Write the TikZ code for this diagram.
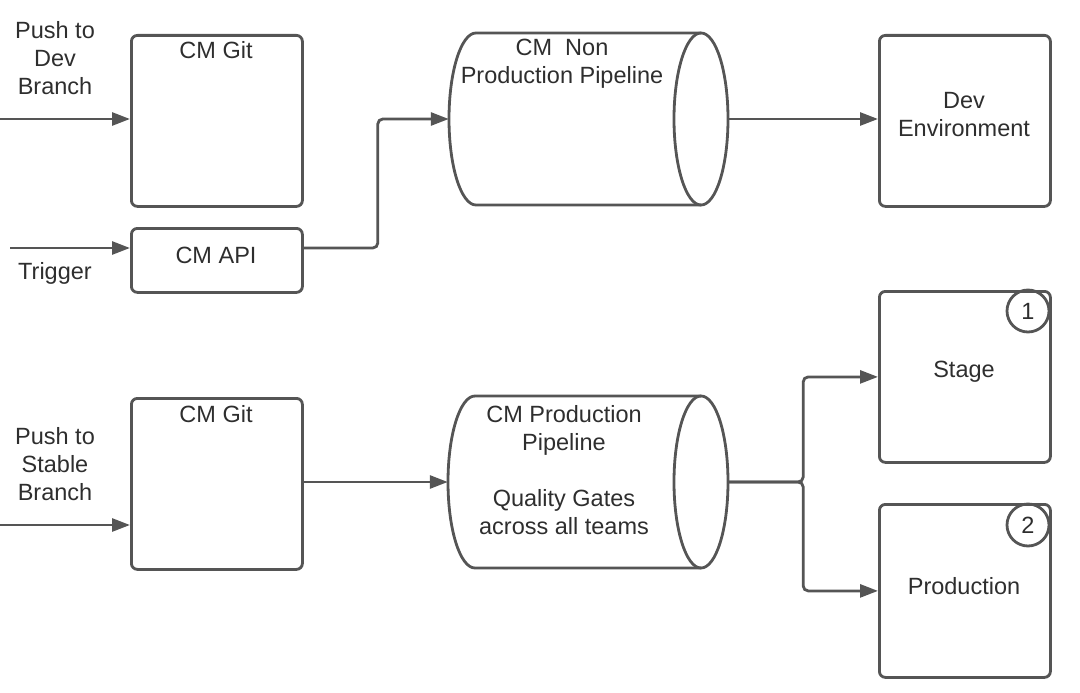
\documentclass[tikz,border=0pt]{standalone}
\usepackage{fontspec}
\setmainfont{Liberation Sans}
\usetikzlibrary{arrows.meta}
\definecolor{edge}{HTML}{555555}
\definecolor{ink}{HTML}{2E2E2E}
\begin{document}
\begin{tikzpicture}[x=1pt,y=-1pt,
  every node/.style={font=\fontsize{23.5}{28}\selectfont, text=ink},
  txt/.style={align=center, inner sep=0pt},
  box/.style={draw=edge, line width=2.8pt, rounded corners=6pt,
    minimum width=171pt, inner sep=0pt, anchor=north west},
  tall/.style={box, minimum height=171pt},
  ghost/.style={draw=none, inner sep=0pt},
  badge/.style={circle, draw=edge, line width=2.8pt, minimum size=42pt, inner sep=0pt},
  shell/.style={draw=edge, line width=2.8pt},
  arr/.style={draw=edge, line width=2.8pt, rounded corners=5pt,
    -{Triangle[length=18pt,width=13pt]}}
]
\useasboundingbox (0,0) rectangle (1080,693);

% --- upper row: dev branch
\node[tall] (gitdev) at (130,34) {};
\node[txt] (gitdevlbl) at (216,50) {CM Git};
\node[box, minimum height=64pt] (api) at (130,227) {};
\node[txt] (apilbl) at (216,255) {CM API};
\node[tall] (dev) at (878,34) {};
\node[txt] (devlbl) at (964,115) {Dev\\Environment};

% non production pipeline cylinder
\node[ghost, minimum width=279pt, minimum height=172pt] (np) at (588.5,119) {};
\draw[shell] (701,33) -- (476,33)
  arc[start angle=90, end angle=270, x radius=27pt, y radius=86pt] -- (701,205);
\draw[shell] (701,119) ellipse [x radius=27pt, y radius=86pt];
\node[txt] (nplbl) at (562,64) {CM~ Non\\Production Pipeline};

% --- lower row: stable branch
\node[tall] (gitst) at (130,397) {};
\node[txt] (gitstlbl) at (216,414) {CM Git};
\node[tall] (stage) at (878,290) {};
\node[txt] (stagelbl) at (964,372) {Stage};
\node[badge] (b1) at (1028,311) {1};
\node[tall, minimum height=173pt] (prod) at (878,503) {};
\node[txt] (prodlbl) at (964,586) {Production};
\node[badge] (b2) at (1028,525) {2};

% production pipeline cylinder
\node[ghost, minimum width=280pt, minimum height=172pt] (pp) at (588,482) {};
\draw[shell] (701,396) -- (475,396)
  arc[start angle=90, end angle=270, x radius=27pt, y radius=86pt] -- (701,568);
\draw[shell] (701,482) ellipse [x radius=27pt, y radius=86pt];
\node[txt] (pplbl) at (564,470.5) {CM Production\\Pipeline\\[28pt]Quality Gates\\across all teams};

% --- inputs
\node[txt] (pushdev) at (55,58) {Push to\\Dev\\Branch};
\node[txt] (trig) at (55,273) {Trigger};
\node[txt] (pushst) at (55,464) {Push to\\Stable\\Branch};
\coordinate (indev) at (0,119);
\coordinate (intrig) at (10,248);
\coordinate (inst) at (0,525);

% --- connectors
\draw[arr] (indev) -- (gitdev.west |- indev);
\draw[arr] (intrig) -- (api.west |- intrig);
\draw[arr] (api.east |- intrig) -- ++(74,0) |- (np.west);
\draw[arr] (np.east) -- (dev.west |- np.east);
\draw[arr] (inst) -- (gitst.west |- inst);
\draw[arr] (gitst.east |- pp.west) -- (pp.west);
\draw[arr] (pp.east) -- ++(75,0) |- (stage.west);
\draw[arr] (pp.east) -- ++(75,0) |- (prod.west);
\end{tikzpicture}
\end{document}
